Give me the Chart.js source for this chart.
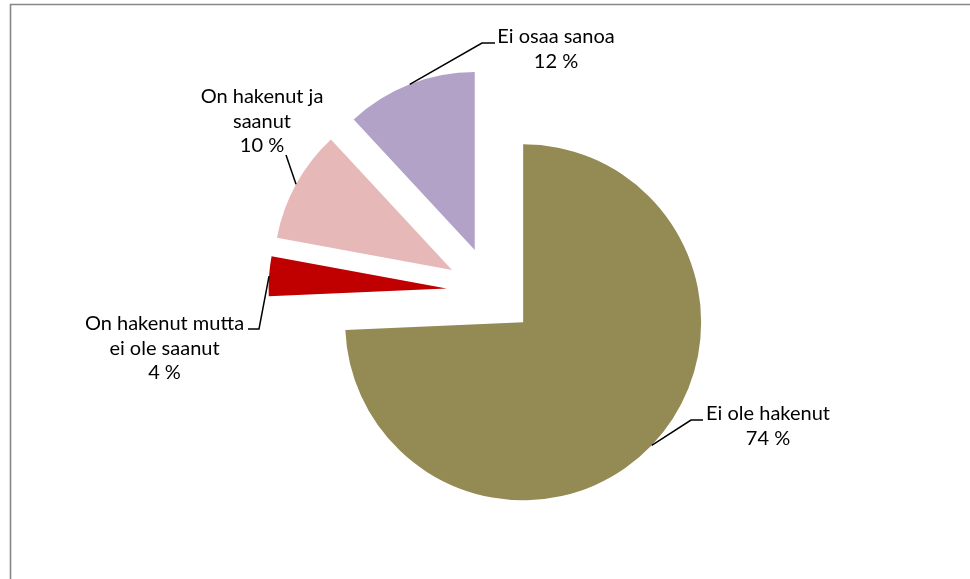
<!DOCTYPE html>
<html><head><meta charset="utf-8">
<script src="https://cdn.jsdelivr.net/npm/chart.js@4.4.1/dist/chart.umd.min.js"></script>
<style>html,body{margin:0;padding:0;background:#fff;overflow:hidden}</style>
</head><body>
<canvas id="c" width="970" height="579"></canvas>
<script>
// ---- data ----
const categories = ['Ei ole hakenut', 'On hakenut mutta ei ole saanut', 'On hakenut ja saanut', 'Ei osaa sanoa'];
const labelLines = [['Ei ole hakenut'], ['On hakenut mutta', 'ei ole saanut'], ['On hakenut ja', 'saanut'], ['Ei osaa sanoa']];
const values = [74.3, 3.6, 10.2, 11.9];
const colors = ['#948A54', '#C00000', '#E6B9B8', '#B3A2C7'];

// ---- label layout (positions only) ----
const labelLayout = [
  {cx: 768, y: 420, leader: [[691, 420], [703, 420]]},
  {cx: 164.5, y: 330, leader: [[259, 329], [248, 329]]},
  {cx: 262, y: 103, leader: [[286, 155]]},
  {cx: 556, y: 43, leader: [[482, 43], [495, 43]]}
];

const framePlugin = {
  id: 'frame',
  beforeDraw(chart) {
    const ctx = chart.ctx;
    ctx.save();
    ctx.strokeStyle = '#878787';
    ctx.lineWidth = 1.6;
    ctx.beginPath();
    ctx.moveTo(10.5, 579);
    ctx.lineTo(10.5, 4.5);
    ctx.lineTo(970, 4.5);
    ctx.stroke();
    ctx.restore();
  }
};

const explodePlugin = {
  id: 'explode',
  beforeDatasetDraw(chart, args, opts) {
    const ctx = chart.ctx;
    args.meta.data.forEach(arc => {
      const mid = (arc.startAngle + arc.endAngle) / 2;
      ctx.save();
      ctx.translate(Math.cos(mid) * opts.distance, Math.sin(mid) * opts.distance);
      arc.draw(ctx);
      ctx.restore();
    });
    return false;
  }
};

const labelPlugin = {
  id: 'pieLabels',
  afterDatasetsDraw(chart, args, opts) {
    const ctx = chart.ctx;
    const meta = chart.getDatasetMeta(0);
    const ds = chart.data.datasets[0].data;
    const dist = chart.options.plugins.explode.distance;
    ctx.save();
    meta.data.forEach((arc, i) => {
      const mid = (arc.startAngle + arc.endAngle) / 2;
      const r = arc.outerRadius + dist;
      const sx = arc.x + Math.cos(mid) * r;
      const sy = arc.y + Math.sin(mid) * r;
      const lay = labelLayout[i];
      ctx.strokeStyle = '#000';
      ctx.lineWidth = 1.5;
      ctx.beginPath();
      ctx.moveTo(sx, sy);
      lay.leader.forEach(p => ctx.lineTo(p[0], p[1]));
      ctx.stroke();
      const lines = labelLines[i].concat([Math.round(ds[i]) + ' %']);
      ctx.fillStyle = '#000';
      ctx.font = opts.font;
      ctx.textAlign = 'center';
      ctx.textBaseline = 'alphabetic';
      lines.forEach((t, k) => ctx.fillText(t, lay.cx, lay.y + k * opts.lineHeight));
    });
    ctx.restore();
  }
};

new Chart(document.getElementById('c'), {
  type: 'pie',
  data: {
    labels: categories,
    datasets: [{
      data: values,
      backgroundColor: colors,
      borderWidth: 0
    }]
  },
  options: {
    responsive: false,
    animation: false,
    events: [],
    radius: 178,
    layout: {padding: {left: 12, top: 4, right: 0, bottom: 0}},
    plugins: {
      legend: {display: false},
      tooltip: {enabled: false},
      explode: {distance: 44.5},
      pieLabels: {font: '20px Lato, "Noto Sans", sans-serif', lineHeight: 24.5}
    }
  },
  plugins: [framePlugin, explodePlugin, labelPlugin]
});
</script>
</body></html>
